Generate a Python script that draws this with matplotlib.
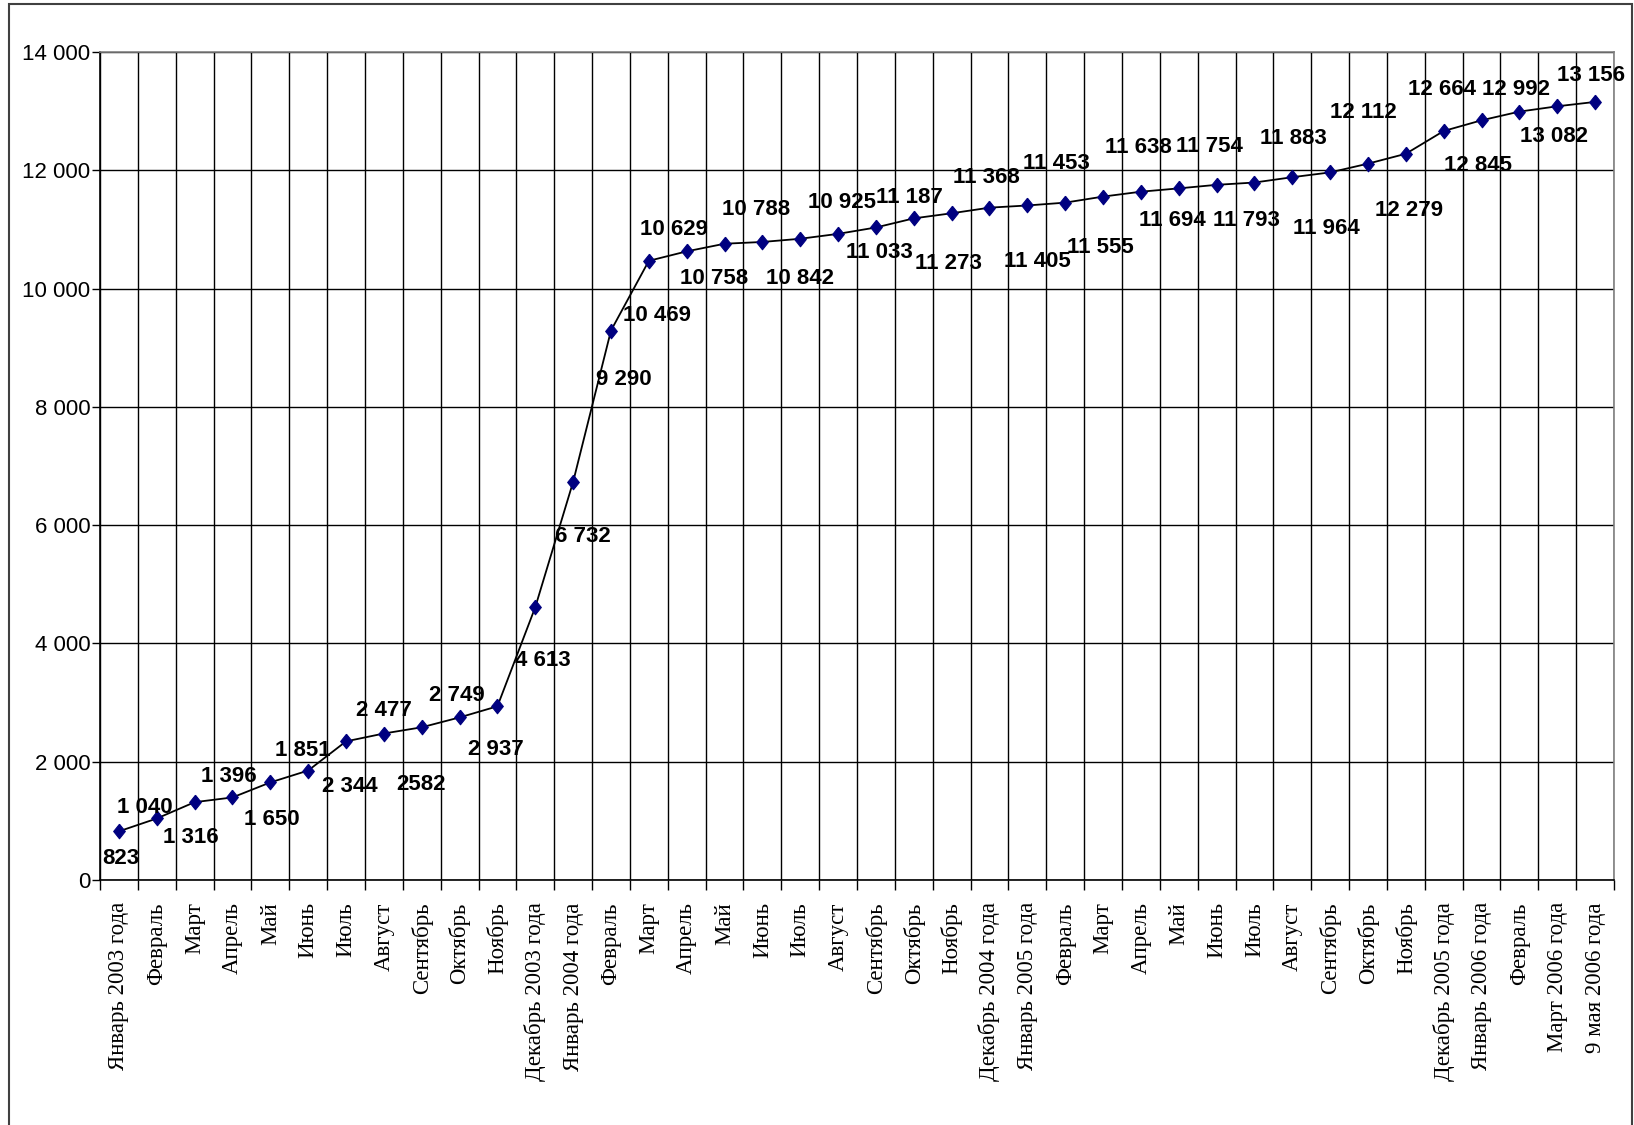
import matplotlib
matplotlib.use("Agg")
import matplotlib.pyplot as plt
from matplotlib.patches import Rectangle
from matplotlib.ticker import FixedLocator, FuncFormatter
import numpy as np

categories = [
    "Январь 2003 года", "Февраль", "Март", "Апрель", "Май", "Июнь", "Июль",
    "Август", "Сентябрь", "Октябрь", "Ноябрь", "Декабрь 2003 года",
    "Январь 2004 года", "Февраль", "Март", "Апрель", "Май", "Июнь", "Июль",
    "Август", "Сентябрь", "Октябрь", "Ноябрь", "Декабрь 2004 года",
    "Январь 2005 года", "Февраль", "Март", "Апрель", "Май", "Июнь", "Июль",
    "Август", "Сентябрь", "Октябрь", "Ноябрь", "Декабрь 2005 года",
    "Январь 2006 года", "Февраль", "Март 2006 года", "9 мая 2006 года",
]
values = [
    823, 1040, 1316, 1396, 1650, 1851, 2344, 2477, 2582, 2749, 2937, 4613,
    6732, 9290, 10469, 10629, 10758, 10788, 10842, 10925, 11033, 11187, 11273,
    11368, 11405, 11453, 11555, 11638, 11694, 11754, 11793, 11883, 11964,
    12112, 12279, 12664, 12845, 12992, 13082, 13156,
]
value_labels = [
    "823", "1 040", "1 316", "1 396", "1 650", "1 851", "2 344", "2 477",
    "2582", "2 749", "2 937", "4 613", "6 732", "9 290", "10 469", "10 629",
    "10 758", "10 788", "10 842", "10 925", "11 033", "11 187", "11 273",
    "11 368", "11 405", "11 453", "11 555", "11 638", "11 694", "11 754",
    "11 793", "11 883", "11 964", "12 112", "12 279", "12 664", "12 845",
    "12 992", "13 082", "13 156",
]
y_ticks = [0, 2000, 4000, 6000, 8000, 10000, 12000, 14000]

# label placement (pixel offsets from the marker; dy measured downward)
label_offsets = [
    (2, 27), (-12, -11), (-4, 35), (-4, -21), (1.5, 37), (-5, -20), (4, 45),
    (0, -23), (-1, 57), (-3, -22), (-2, 43), (8, 53), (9.5, 55), (13, 49),
    (8, 55), (-12.5, -22), (-10.5, 35), (-6, -32), (0, 40), (4, -31), (3, 25),
    (-4.6, -21), (-2.7, 50), (-3, -30), (10, 56), (-8.7, -39), (-2.7, 51),
    (-2.7, -44), (-6.7, 32), (-6.7, -38), (-7.7, 38), (1, -39), (-3.3, 56),
    (-4.3, -51), (3, 57), (-2, -42), (-3.5, 45), (-3, -22), (-3.5, 30),
    (-4.5, -26),
]

W, H = 1634, 1125
fig = plt.figure(figsize=(W / 100, H / 100), dpi=100)
fig.patch.set_facecolor("white")

left, right, top, bottom = 100, 1614, 52, 880
ax = fig.add_axes([left / W, 1 - bottom / H, (right - left) / W, (bottom - top) / H])

x = np.arange(len(values))
diamond = [(0, 1), (0.8, 0), (0, -1), (-0.8, 0), (0, 1)]
ax.plot(x, values, color="black", lw=1.3, zorder=3)
ax.plot(x, values, linestyle="none", marker=diamond, markersize=10.5,
        markerfacecolor="#000080", markeredgecolor="#000080",
        markeredgewidth=0.8, zorder=4)

ax.set_xlim(-0.5, len(values) - 0.5)
ax.set_ylim(0, 14000)

# y axis
ax.yaxis.set_major_locator(FixedLocator(y_ticks))
ax.yaxis.set_major_formatter(FuncFormatter(lambda v, p: f"{int(v):,}".replace(",", " ")))
ax.tick_params(axis="y", which="major", direction="out", length=6, width=1,
               pad=1, labelsize=16, colors="black")
for t in ax.get_yticklabels():
    t.set_fontfamily("Liberation Sans")

# x axis
ax.set_xticks(x)
ax.set_xticklabels(categories, rotation=90, fontfamily="Liberation Serif",
                   fontsize=16.5, va="top", ha="center")
ax.set_xticks(np.arange(-0.5, len(values)), minor=True)
ax.tick_params(axis="x", which="major", length=0, pad=16)
ax.tick_params(axis="x", which="minor", direction="out", length=7, width=1,
               color="black")

# grid
ax.grid(True, axis="y", which="major", color="black", lw=1.0, zorder=1)
ax.grid(True, axis="x", which="minor", color="black", lw=1.0, zorder=1)
ax.grid(False, axis="x", which="major")
ax.set_axisbelow(True)

for side in ["top", "right"]:
    ax.spines[side].set_color("#808080")
    ax.spines[side].set_linewidth(1.2)
for side in ["left", "bottom"]:
    ax.spines[side].set_color("black")
    ax.spines[side].set_linewidth(1.2)

# data labels
for xi, yi, txt, (dx, dy) in zip(x, values, value_labels, label_offsets):
    ax.annotate(txt, (xi, yi), xytext=(dx, -dy), textcoords="offset pixels",
                ha="center", va="center", fontsize=16, fontweight="bold",
                fontfamily="Liberation Sans", color="black", zorder=5,
                annotation_clip=False)

# outer chart border
fig.add_artist(Rectangle((8.5 / W, -0.02), (1631.5 - 8.5) / W, 1.02 - 4 / H,
                         transform=fig.transFigure, fill=False,
                         edgecolor="#404040", lw=1.5))

fig.savefig("out.png", dpi=100)
